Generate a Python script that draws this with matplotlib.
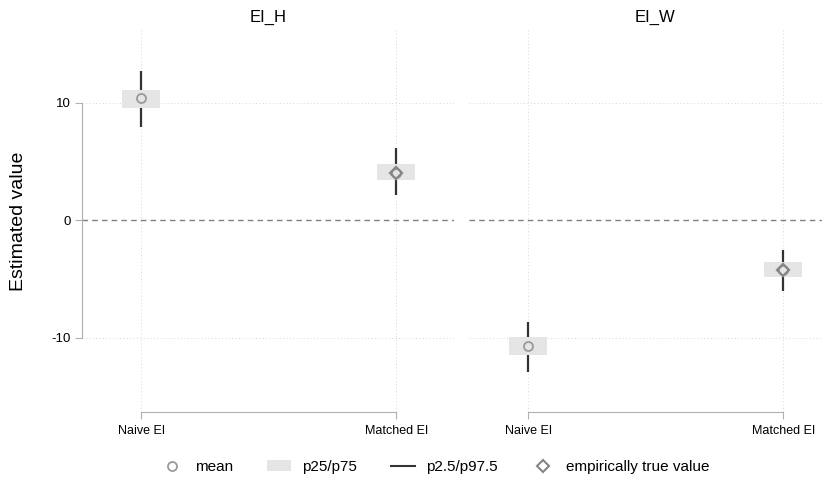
import numpy as np
import matplotlib
matplotlib.use('Agg')
import matplotlib.pyplot as plt
from matplotlib.lines import Line2D
from matplotlib.patches import Patch

plt.rcParams['font.family'] = ['Liberation Sans', 'DejaVu Sans']

# Daten
categories = ['Naive EI', 'Matched EI']
panels = ['EI_H', 'EI_W']
means = {'EI_H': [10.4, 4.0], 'EI_W': [-10.7, -4.2]}
p25 = {'EI_H': [9.55, 3.4], 'EI_W': [-11.45, -4.8]}
p75 = {'EI_H': [11.1, 4.8], 'EI_W': [-9.95, -3.55]}
p2_5 = {'EI_H': [7.95, 2.15], 'EI_W': [-12.9, -6.0]}
p97_5 = {'EI_H': [12.7, 6.15], 'EI_W': [-8.65, -2.5]}
true_vals = {'EI_H': [None, 4.0], 'EI_W': [None, -4.25]}
yticks = [-10, 0, 10]

W, H = 822, 483
fig = plt.figure(figsize=(W / 100, H / 100), dpi=100)

ax_x0 = [82, 469]
ax_w = 372
ax_top, ax_bot = 30, 412

grid_col = '#d6d6d6'
spine_col = '#b0b0b0'

for i, name in enumerate(panels):
    ax = fig.add_axes([ax_x0[i] / W, (H - ax_bot) / H, ax_w / W, (ax_bot - ax_top) / H])
    x = np.arange(len(categories))
    ax.set_xlim(-0.232, 1.226)
    ax.set_ylim(-16.3, 16.2)

    # grid
    for xv in x:
        ax.axvline(xv, color=grid_col, lw=0.7, ls=(0, (1, 2.5)), zorder=0)
    for yv in yticks:
        if yv != 0:
            ax.axhline(yv, color=grid_col, lw=0.7, ls=(0, (1, 2.5)), zorder=0)
    ax.axhline(0, color='#808080', lw=1.0, ls=(0, (4, 3)), zorder=1)

    ax.vlines(x, p2_5[name], p97_5[name], color='#333333', lw=1.6, zorder=2)
    lo = np.array(p25[name])
    hi = np.array(p75[name])
    ax.bar(x, hi - lo, bottom=lo, width=0.15, color='#e5e5e5', zorder=3)
    ax.plot(x, means[name], 'o', ms=6.5, mfc='none', mec='#9a9a9a', mew=1.3, zorder=4)
    tx = [xv for xv, t in zip(x, true_vals[name]) if t is not None]
    ty = [t for t in true_vals[name] if t is not None]
    ax.plot(tx, ty, 'D', ms=6, mfc='none', mec='#858585', mew=1.6, zorder=5)

    ax.set_title(name, fontsize=12, pad=6)

    for s in ['top', 'right']:
        ax.spines[s].set_visible(False)
    ax.spines['bottom'].set_bounds(0, 1)
    ax.spines['bottom'].set_color(spine_col)
    ax.set_xticks(x)
    ax.set_xticklabels(categories, fontsize=9)
    ax.tick_params(axis='x', colors=spine_col, labelcolor='black', length=5, pad=4)

    if i == 0:
        ax.spines['left'].set_bounds(-10, 10)
        ax.spines['left'].set_color(spine_col)
        ax.set_yticks(yticks)
        ax.set_yticklabels([str(v) for v in yticks], fontsize=9.5)
        ax.tick_params(axis='y', colors=spine_col, labelcolor='black', length=5, pad=3)
        ax.set_ylabel('Estimated value', fontsize=14, labelpad=18)
    else:
        ax.spines['left'].set_visible(False)
        ax.set_yticks([])
    ax.patch.set_alpha(0)

handles = [
    Line2D([], [], marker='o', ls='none', ms=6.5, mfc='none', mec='#9a9a9a', mew=1.3),
    Patch(facecolor='#e5e5e5', edgecolor='none'),
    Line2D([], [], color='#333333', lw=1.5),
    Line2D([], [], marker='D', ls='none', ms=6, mfc='none', mec='#858585', mew=1.5),
]
labels = ['mean', 'p25/p75', 'p2.5/p97.5', 'empirically true value']
fig.legend(handles, labels, loc='center', bbox_to_anchor=(0.529, 1 - 467 / H), ncol=4,
           frameon=False, fontsize=11, handlelength=1.6, columnspacing=2.2, handletextpad=0.7)

fig.savefig('out.png', dpi=100)
